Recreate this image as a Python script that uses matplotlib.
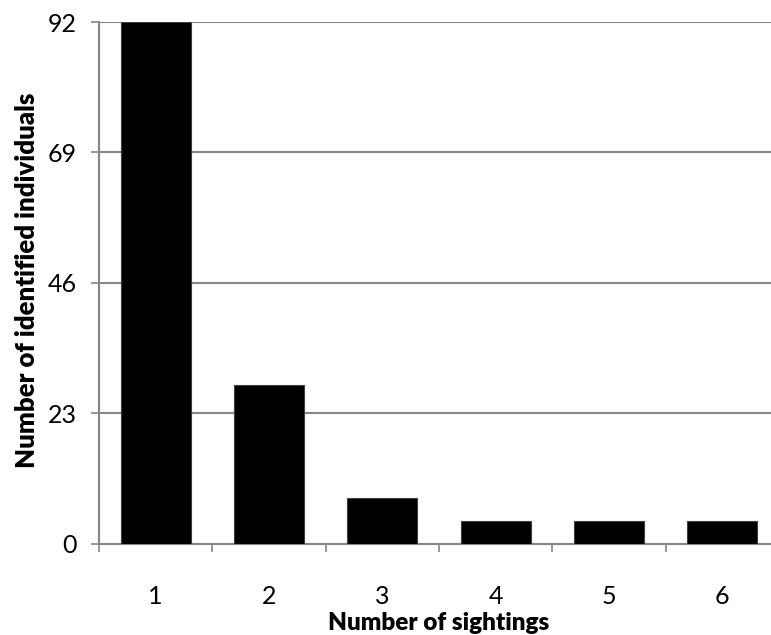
import matplotlib
matplotlib.use("Agg")
import matplotlib.pyplot as plt

categories = [1, 2, 3, 4, 5, 6]
counts = [92, 28, 8, 4, 4, 4]
yticks = [0, 23, 46, 69, 92]

plt.rcParams['font.family'] = ['Lato', 'DejaVu Sans']

W, H = 771, 635
fig = plt.figure(figsize=(W/100, H/100), dpi=100)
ax = fig.add_axes([99/W, 1 - 543.5/H, 680/W, (543.5 - 22)/H])

grid_c = '#868686'
ax.bar(categories, counts, width=0.62, color='black', edgecolor='#404040', linewidth=0.8, zorder=3)

ax.set_xlim(0.5, 6.5)
ax.set_ylim(0, 92)
ax.set_yticks(yticks)
ax.set_yticklabels([str(v) for v in yticks])
ax.yaxis.grid(True, color=grid_c, linewidth=1.5, zorder=0)
ax.set_axisbelow(True)

ax.set_xticks(categories)
ax.set_xticklabels([str(c) for c in categories])
ax.set_xticks([c + 0.5 for c in [0] + categories], minor=True)
ax.tick_params(axis='x', which='major', length=0, pad=30, labelsize=18)
ax.tick_params(axis='x', which='minor', length=6, width=1.2, color=grid_c, direction='out')
ax.tick_params(axis='y', which='major', length=6, width=1.2, color=grid_c, pad=10, labelsize=18)

for s in ['top', 'right']:
    ax.spines[s].set_visible(False)
for s in ['left', 'bottom']:
    ax.spines[s].set_color(grid_c)
    ax.spines[s].set_linewidth(1.5)

fig.text(439/W, 1 - 630/H, 'Number of sightings', fontsize=17.5, fontweight='heavy',
         ha='center', va='baseline')
fig.text(27/W, 1 - 280/H, 'Number of identified individuals', fontsize=18.5, fontweight='heavy',
         ha='center', va='center', rotation=90)

fig.savefig('out.png', dpi=100)
